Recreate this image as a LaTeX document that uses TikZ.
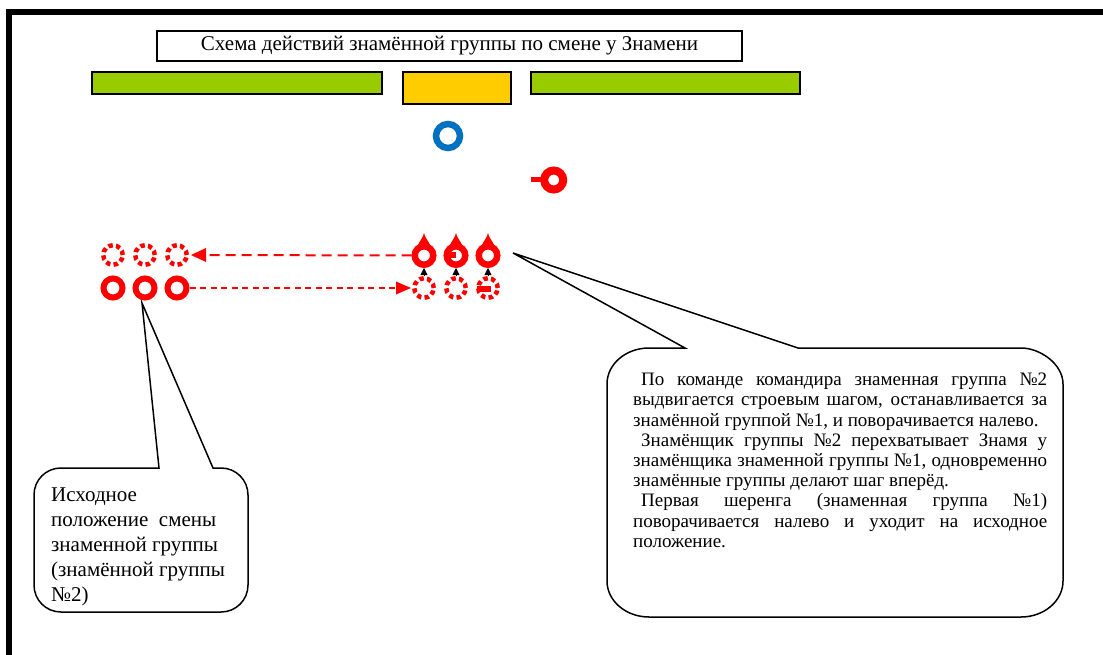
\documentclass[tikz,border=0pt]{standalone}
\usepackage{fontspec}
\setmainfont{Liberation Serif}
\usetikzlibrary{arrows.meta}
\definecolor{bargreen}{HTML}{99CC00}
\definecolor{barorange}{HTML}{FFCC00}
\definecolor{flagblue}{HTML}{0070C0}

\begin{document}
\begin{tikzpicture}[x=1pt, y=-1pt,
  man/.style = {draw=red, circle, line width=6pt, minimum size=19pt, inner sep=0pt},
  ghost/.style = {man, line width=4.5pt, minimum size=19.5pt, dash pattern=on 4.5pt off 3.2pt},
  note/.style = {draw, line width=1.5pt, fill=white},
  move/.style = {draw=red, line width=2pt}]
  \useasboundingbox (0,0) rectangle (1103,655);
  \draw[line width=6pt] (9,670) -- (9,12) -- (1120,12);

  % title and the stands
  \node[draw, line width=1.5pt, minimum width=585pt, minimum height=30pt, inner sep=0pt,
        font=\fontsize{21}{24}\selectfont] (title) at (449.5,46)
        {Схема действий знамённой группы по смене у Знамени};
  \draw[fill=bargreen, line width=1.2pt] (92,72) rectangle (382,94);
  \draw[fill=barorange, line width=1.2pt] (403,72) rectangle (511,104);
  \draw[fill=bargreen, line width=1.2pt] (531,72) rectangle (800,94);

  % callouts
  \draw[note] (159,468) -- (142,303) -- (213,468) -- (221,468)
    .. controls (236,468) and (248,480) .. (248,495) -- (248,585)
    .. controls (248,600) and (236,612) .. (221,612) -- (61,612)
    .. controls (46,612) and (34,600) .. (34,585) -- (34,495)
    .. controls (34,480) and (46,468) .. (61,468) -- cycle;
  \draw[note] (685,348) -- (513,253) -- (798,348) -- (1021,348)
    .. controls (1040,348) and (1063,364) .. (1063,384) -- (1063,581)
    .. controls (1063,601) and (1044,617) .. (1021,617) -- (649,617)
    .. controls (626,617) and (607,601) .. (607,581) -- (607,384)
    .. controls (607,364) and (626,348) .. (649,348) -- cycle;
  \node[anchor=north west, inner sep=0pt, align=left,
        font=\fontsize{21}{25}\selectfont] (srcnote) at (51,488)
        {Исходное\\положение~ смены\\знаменной группы\\(знамённой группы\\№2)};
  \node[anchor=north west, inner sep=0pt, align=left,
        font=\fontsize{19}{20.2}\selectfont] (stepnote) at (633,373)
        {\makebox[414pt][s]{\hspace*{8pt}По команде командира знаменная группа №2}\\
         \makebox[414pt][s]{выдвигается строевым шагом, останавливается за}\\
         знамённой группой №1, и поворачивается налево.\\
         \makebox[414pt][s]{\hspace*{8pt}Знамёнщик группы №2 перехватывает Знамя у}\\
         \makebox[414pt][s]{знамёнщика знаменной группы №1, одновременно}\\
         знамённые группы делают шаг вперёд.\\
         \makebox[414pt][s]{\hspace*{8pt}Первая шеренга (знаменная группа №1)}\\
         \makebox[414pt][s]{поворачивается налево и уходит на исходное}\\
         положение.};

  % flag bearers at the Banner
  \node[draw=flagblue, circle, line width=6.5pt, minimum size=24pt, inner sep=0pt] (guard) at (448,136) {};
  \node[man, line width=8pt, minimum size=19pt] (chief) at (553.7,180) {};
  \fill[red] (531,177.5) rectangle (542,182.5);

  % groups
  \node[ghost] (g1) at (113,255) {};
  \node[ghost] (g2) at (145,255) {};
  \node[ghost] (g3) at (177,255) {};
  \node[man]   (o1) at (113,288) {};
  \node[man]   (o2) at (145,288) {};
  \node[man]   (o3) at (177,288) {};
  \node[man, line width=6.5pt, minimum size=18.5pt] (f1) at (424,255.5) {};
  \node[man, line width=6.5pt, minimum size=18.5pt] (f2) at (456,255.5) {};
  \node[man, line width=6.5pt, minimum size=18.5pt] (f3) at (488,255.5) {};
  \node[ghost] (b1) at (424,288) {};
  \node[ghost] (b2) at (456,288) {};
  \node[ghost] (b3) at (488,288) {};
  \foreach \x in {424,456,488}
    \fill[red] (\x-6,245) .. controls (\x-4,240) and (\x-1,238) .. (\x,233)
      .. controls (\x+1,238) and (\x+4,240) .. (\x+6,245) -- cycle;
  \fill[red] (449,252) rectangle (456,258);
  \fill[red] (477,286) rectangle (491,292);

  \draw[move, dash pattern=on 10pt off 6pt] (f1) -- (g3.east);
  \fill[red] (g3.east) ++(2,0) -- ++(15,-7) -- ++(0,14) -- cycle;
  \draw[move, dash pattern=on 6pt off 4.5pt] (o3) -- ([xshift=-15pt]b1.west);
  \fill[red] (b1.west) ++(-1,0) -- ++(-15,-6.5) -- ++(0,13) -- cycle;
  \foreach \i in {1,2,3}
    \draw[-{Triangle[length=7pt, width=7pt]}, line width=0.8pt] (b\i.north) -- (f\i.south);
\end{tikzpicture}
\end{document}
